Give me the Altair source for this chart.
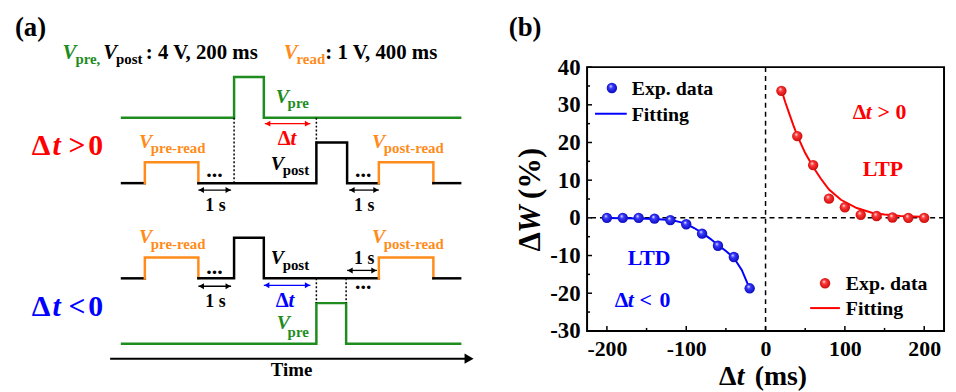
import altair as alt
import pandas as pd

# ---------------- panel (b) data ----------------
ltd_x = [-200, -180, -160, -140, -120, -100, -80, -60, -40, -20]
ltd_y = [0.0, 0.0, 0.0, -0.2, -0.6, -1.7, -4.2, -7.4, -10.4, -18.7]
ltp_x = [20, 40, 60, 80, 100, 120, 140, 160, 180, 200]
ltp_y = [33.7, 21.7, 14.0, 5.1, 2.8, 0.8, 0.5, 0.1, 0.0, 0.0]
ltd_fit_x = [-200, -180, -160, -140, -120, -110, -100, -90, -80, -70, -60, -50, -40, -30, -20]
ltd_fit_y = [-0.05, -0.1, -0.15, -0.3, -0.6, -1.0, -1.6, -2.7, -4.0, -5.5, -7.2, -8.8, -10.6, -13.8, -18.8]
ltp_fit_x = [20, 25, 30, 35, 40, 50, 60, 70, 80, 95, 115, 135, 150, 170, 195]
ltp_fit_y = [34.0, 30.6, 27.6, 24.6, 21.8, 17.2, 13.5, 10.3, 7.5, 4.8, 2.6, 1.3, 0.9, 0.5, 0.3]
x_ticks_major = [-200, -100, 0, 100, 200]
x_ticks_minor = [-150, -50, 50, 150]
y_ticks_major = [-30, -20, -10, 0, 10, 20, 30, 40]
y_ticks_minor = [-25, -15, -5, 5, 15, 25, 35]

# ---------------- panel (a) schematic (canvas units) ----------------
G, O, R, B, K = "#1e8c1e", "#ff8c1a", "#ff0000", "#0000ff", "#000000"
wave_segments = [
    # dt > 0 : V_pre row
    (G, [123, 236, 236, 266, 266, 464], [117, 117, 76, 76, 117, 117]),
    # dt > 0 : V_post row
    (K, [123, 146], [183, 183]),
    (O, [146, 146, 200, 200], [183, 162, 162, 183]),
    (K, [200, 319, 319, 350, 350, 382], [183, 183, 142, 142, 183, 183]),
    (O, [382, 382, 437, 437], [183, 162, 162, 183]),
    (K, [437, 464], [183, 183]),
    # dt < 0 : V_post row
    (K, [123, 146], [279, 279]),
    (O, [146, 146, 200, 200], [279, 258, 258, 279]),
    (K, [200, 236, 236, 266, 266, 382], [279, 279, 238, 238, 279, 279]),
    (O, [382, 382, 437, 437], [279, 258, 258, 279]),
    (K, [437, 464], [279, 279]),
    # dt < 0 : V_pre row
    (G, [123, 319, 319, 349, 349, 464], [345, 345, 304, 304, 345, 345]),
]
dotted_x = [236, 319, 319, 349]
dotted_y1 = [117, 117, 279, 279]
dotted_y2 = [183, 142, 304, 304]
arrow_x1 = [200, 352, 267, 350, 200, 266]
arrow_x2 = [233, 382, 313, 380, 233, 313]
arrow_y = [190, 190, 123, 271, 287, 286]
arrow_c = [K, K, R, K, K, B]
time_x1, time_x2, time_y = [111], [478], [360]

# text pieces: text, x, y(baseline), color, size, italic, angle
texts = [
    ("(a)", 15, 35, K, 27, 0, 0), ("(b)", 513, 35, K, 27, 0, 0),
    ("V", 63, 58, G, 21, 1, 0), ("pre,", 76, 63, G, 15, 0, 0),
    ("V", 104, 58, K, 21, 1, 0), ("post", 117, 63, K, 15, 0, 0),
    (": 4 V, 200 ms", 147, 58, K, 21, 0, 0),
    ("V", 286, 58, O, 21, 1, 0), ("read", 299, 63, O, 15, 0, 0),
    (": 1 V, 400 ms", 328, 58, K, 21, 0, 0),
    ("Δ", 32, 155, R, 30, 0, 0), ("t", 53, 155, R, 30, 1, 0), (">", 69, 155, R, 30, 0, 0), ("0", 89, 155, R, 30, 0, 0),
    ("V", 140, 148, O, 20, 1, 0), ("pre-read", 152, 153, O, 15, 0, 0),
    ("V", 278, 102, G, 20, 1, 0), ("pre", 290, 107, G, 15, 0, 0),
    ("Δ", 280, 145, R, 21, 0, 0), ("t", 293, 145, R, 21, 1, 0),
    ("V", 273, 170, K, 20, 1, 0), ("post", 285, 175, K, 15, 0, 0),
    ("V", 375, 148, O, 20, 1, 0), ("post-read", 387, 153, O, 15, 0, 0),
    ("...", 208, 177, K, 22, 0, 0), ("...", 358, 177, K, 22, 0, 0),
    ("1 s", 207, 211, K, 18, 0, 0), ("1 s", 357, 211, K, 18, 0, 0),
    ("V", 140, 243, O, 20, 1, 0), ("pre-read", 152, 249, O, 15, 0, 0),
    ("V", 273, 265, K, 20, 1, 0), ("post", 285, 271, K, 15, 0, 0),
    ("V", 375, 243, O, 20, 1, 0), ("post-read", 387, 249, O, 15, 0, 0),
    ("1 s", 357, 265, K, 18, 0, 0), ("...", 358, 290, K, 22, 0, 0),
    ("...", 208, 275, K, 22, 0, 0), ("1 s", 207, 308, K, 18, 0, 0),
    ("Δ", 278, 308, B, 21, 0, 0), ("t", 291, 308, B, 21, 1, 0),
    ("Δ", 32, 317, B, 30, 0, 0), ("t", 53, 317, B, 30, 1, 0), ("<", 69, 317, B, 30, 0, 0), ("0", 89, 317, B, 30, 0, 0),
    ("V", 279, 330, G, 20, 1, 0), ("pre", 290, 338, G, 15, 0, 0),
    ("Time", 273, 378, K, 19, 0, 0),
    # panel (b) annotations
    ("Exp. data", 637, 94, K, 20, 0, 0), ("Fitting", 637, 120, K, 20, 0, 0),
    ("Exp. data", 853, 291, K, 20, 0, 0), ("Fitting", 853, 316, K, 20, 0, 0),
    ("Δ", 860, 118, R, 22, 0, 0), ("t", 873, 118, R, 22, 1, 0), (">", 885, 118, R, 22, 0, 0), ("0", 903, 118, R, 22, 0, 0),
    ("LTP", 870, 176, R, 22, 0, 0), ("LTD", 633, 266, B, 22, 0, 0),
    ("Δ", 620, 308, B, 22, 0, 0), ("t", 633, 308, B, 22, 1, 0), ("<", 645, 308, B, 22, 0, 0), ("0", 665, 308, B, 22, 0, 0),
    ("Δ", 725, 387, K, 28, 0, 0), ("t", 743, 387, K, 28, 1, 0), ("(ms)", 761, 387, K, 28, 0, 0),
    ("Δ", 545, 252, K, 31, 0, 270), ("W", 545, 233, K, 31, 1, 270), ("(%)", 545, 199, K, 31, 0, 270),
]
legend_pt_x, legend_pt_y = [617, 832], [87, 284]
legend_ln_x1, legend_ln_x2, legend_ln_y, legend_ln_c = [600, 817], [632, 847], [113, 309], [B, R]

# ---------------- build ----------------
W, H = 360, 266
FONT = "Liberation Serif"

cx = alt.X("x:Q", scale=alt.Scale(domain=[592, 952], nice=False, zero=False), axis=None)
cy = alt.Y("y:Q", scale=alt.Scale(domain=[66, 332], nice=False, zero=False, reverse=True), axis=None)

rows = []
for i, (c, xs, ys) in enumerate(wave_segments):
    for j, (xx, yy) in enumerate(zip(xs, ys)):
        rows.append({"seg": i, "ord": j, "x": xx, "y": yy, "color": c})
waves = alt.Chart(pd.DataFrame(rows)).mark_line(strokeWidth=2.5, strokeCap="square", strokeJoin="miter").encode(
    x=cx, y=cy, detail="seg:N", order="ord:Q", color=alt.Color("color:N", scale=None))

dotted = alt.Chart(pd.DataFrame({"x": dotted_x, "y": dotted_y1, "y2": dotted_y2})).mark_rule(
    strokeWidth=1.5, strokeDash=[2, 2], color="black").encode(x=cx, y=cy, y2="y2:Q")

arr_df = pd.DataFrame({"x": arrow_x1, "x2": arrow_x2, "y": arrow_y, "color": arrow_c})
arr_lines = alt.Chart(arr_df).mark_rule(strokeWidth=1.3).encode(
    x=cx, x2="x2:Q", y=cy, color=alt.Color("color:N", scale=None))
head_l = pd.DataFrame({"x": [a + 3 for a in arrow_x1], "y": arrow_y, "color": arrow_c})
head_r = pd.DataFrame({"x": [a - 3 for a in arrow_x2], "y": arrow_y, "color": arrow_c})
arr_hl = alt.Chart(head_l).mark_point(shape="triangle-left", filled=True, size=36, opacity=1).encode(
    x=cx, y=cy, color=alt.Color("color:N", scale=None))
arr_hr = alt.Chart(head_r).mark_point(shape="triangle-right", filled=True, size=36, opacity=1).encode(
    x=cx, y=cy, color=alt.Color("color:N", scale=None))
time_line = alt.Chart(pd.DataFrame({"x": time_x1, "x2": [t - 6 for t in time_x2], "y": time_y})).mark_rule(
    strokeWidth=2, color="black").encode(x=cx, x2="x2:Q", y=cy)
time_head = alt.Chart(pd.DataFrame({"x": [t - 5 for t in time_x2], "y": time_y})).mark_point(
    shape="triangle-right", filled=True, size=110, opacity=1, color="black").encode(x=cx, y=cy)

tdf = pd.DataFrame(texts, columns=["text", "x", "y", "color", "size", "italic", "angle"])


def text_layer(df, style):
    return alt.Chart(df).mark_text(font=FONT, fontWeight="bold", fontStyle=style, align="left",
                                   baseline="alphabetic").encode(
        x=cx, y=cy, text="text:N", color=alt.Color("color:N", scale=None),
        size=alt.Size("size:Q", scale=None), angle=alt.Angle("angle:Q", scale=None))


txt_up = text_layer(tdf[tdf.italic == 0], "normal")
txt_it = text_layer(tdf[tdf.italic == 1], "italic")


def grad(mid, dark):
    return alt.RadialGradient(
        gradient="radial",
        stops=[alt.GradientStop(offset=0, color="#ffffff"),
               alt.GradientStop(offset=0.3, color=mid),
               alt.GradientStop(offset=1, color=dark)],
        x1=0.38, y1=0.32, r1=0, x2=0.5, y2=0.5, r2=0.6)


GB = grad("#3a3aff", "#0000b0")
GR = grad("#ff3a3a", "#c00000")

leg_pts_b = alt.Chart(pd.DataFrame({"x": legend_pt_x[:1], "y": legend_pt_y[:1]})).mark_circle(
    fill=GB, fillOpacity=1, size=110, opacity=1).encode(x=cx, y=cy)
leg_pts_r = alt.Chart(pd.DataFrame({"x": legend_pt_x[1:], "y": legend_pt_y[1:]})).mark_circle(
    fill=GR, fillOpacity=1, size=110, opacity=1).encode(x=cx, y=cy)
leg_lines = alt.Chart(pd.DataFrame({"x": legend_ln_x1, "x2": legend_ln_x2, "y": legend_ln_y, "color": legend_ln_c})).mark_rule(
    strokeWidth=2).encode(x=cx, x2="x2:Q", y=cy, color=alt.Color("color:N", scale=None))

panelA = alt.layer(waves, dotted, arr_lines, arr_hl, arr_hr, time_line, time_head,
                   leg_lines, leg_pts_b, leg_pts_r, txt_up, txt_it)

# panel (b)
bx_scale = alt.Scale(domain=[-225, 225], nice=False, zero=False)
by_scale = alt.Scale(domain=[-30, 40], nice=False, zero=False)
x_axis = alt.Axis(orient="bottom", values=x_ticks_major, ticks=False, tickSize=0, domain=False, grid=False,
                  labelFont=FONT, labelFontWeight="bold", labelFontSize=22, labelColor="black",
                  labelPadding=8, title=None, labelExpr="'' + datum.value")
y_axis = alt.Axis(orient="left", values=y_ticks_major, ticks=False, tickSize=0, domain=False, grid=False,
                  labelFont=FONT, labelFontWeight="bold", labelFontSize=23, labelColor="black",
                  labelPadding=7, title=None, labelExpr="'' + datum.value")
bx = alt.X("x:Q", scale=bx_scale, axis=x_axis)
by = alt.Y("y:Q", scale=by_scale, axis=y_axis)

zero_v = alt.Chart(pd.DataFrame({"x": [0]})).mark_rule(strokeDash=[5, 4], strokeWidth=1.5, color="black").encode(x=bx)
zero_h = alt.Chart(pd.DataFrame({"y": [0]})).mark_rule(strokeDash=[5, 4], strokeWidth=1.5, color="black").encode(y=by)

xt_major = alt.Chart(pd.DataFrame({"x": x_ticks_major})).mark_rule(strokeWidth=1.5, color="black").encode(
    x=bx, y=alt.value(H), y2=alt.value(H - 5))
xt_minor = alt.Chart(pd.DataFrame({"x": x_ticks_minor})).mark_rule(strokeWidth=1.5, color="black").encode(
    x=bx, y=alt.value(H), y2=alt.value(H - 3))
yt_major = alt.Chart(pd.DataFrame({"y": y_ticks_major})).mark_rule(strokeWidth=1.5, color="black").encode(
    y=by, x=alt.value(0), x2=alt.value(5))
yt_minor = alt.Chart(pd.DataFrame({"y": y_ticks_minor})).mark_rule(strokeWidth=1.5, color="black").encode(
    y=by, x=alt.value(0), x2=alt.value(3))

fit_ltd = alt.Chart(pd.DataFrame({"x": ltd_fit_x, "y": ltd_fit_y})).mark_line(color=B, strokeWidth=2).encode(x=bx, y=by)
fit_ltp = alt.Chart(pd.DataFrame({"x": ltp_fit_x, "y": ltp_fit_y})).mark_line(color=R, strokeWidth=2).encode(x=bx, y=by)
pts_ltd = alt.Chart(pd.DataFrame({"x": ltd_x, "y": ltd_y})).mark_circle(
    fill=GB, fillOpacity=1, opacity=1, size=110).encode(x=bx, y=by)
pts_ltp = alt.Chart(pd.DataFrame({"x": ltp_x, "y": ltp_y})).mark_circle(
    fill=GR, fillOpacity=1, opacity=1, size=110).encode(x=bx, y=by)

panelB = alt.layer(zero_v, zero_h, xt_major, xt_minor, yt_major, yt_minor, fit_ltd, fit_ltp, pts_ltd, pts_ltp)

chart = alt.layer(panelA, panelB).resolve_scale(x="independent", y="independent").properties(
    width=W, height=H,
    padding={"left": 584, "top": 58, "right": 4, "bottom": 60},
    autosize=alt.AutoSizeParams(type="none"),
).configure_view(stroke="black", strokeWidth=2)

chart.save("out.html", embed_options={"renderer": "svg", "actions": False})
